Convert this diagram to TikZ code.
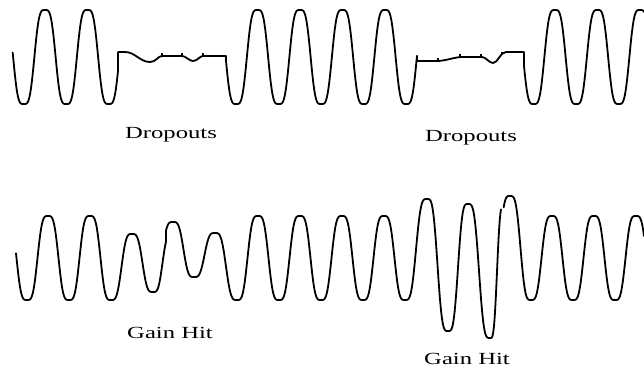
\documentclass[tikz,border=0pt]{standalone}
\usepackage{fontspec}
\setmainfont{Liberation Serif}
\usepackage{graphicx}
\tikzset{
  declare function={sq(\a)=(9*cos(\a)-cos(3*\a))/8;},
  wave/.style={line width=1.8pt, line cap=round, line join=round, black},
  ticky/.style={line width=1.5pt, black},
  lbl/.style={anchor=base, inner sep=0pt, font=\fontsize{17}{19}\selectfont},
}
\newcommand\wseg[6]{\draw[wave] plot[domain=#5:#6,samples=30,variable=\t] ({#1+(#3-#1)*\t},{#2+(#4-#2)*(1-sq(180*\t))/2});}
\begin{document}
\begin{tikzpicture}[x=1pt,y=-1pt]
\fill[white] (0,0) rectangle (644,368);
\useasboundingbox (0,0) rectangle (644,368);
% ---------- top wave with dropouts ----------
\draw[wave] plot[domain=12.7:118,samples=150] (\x,{57-47*sq((\x-45)*8.470588)})
  -- (118,52) -- (125,52)
  .. controls (135,52) and (140,62) .. (150,62)
  .. controls (156,62) and (158,56) .. (162,56) -- (182,56)
  .. controls (186,56) and (189,61) .. (193,61)
  .. controls (197,61) and (200,56) .. (203,56) -- (226,56)
  -- plot[domain=226:417,samples=280] (\x,{57-47*sq((\x-45)*8.470588)})
  -- (417,61) -- (437,61)
  .. controls (445,61) and (455,57) .. (462,57) -- (482,57)
  .. controls (486,57) and (489,63) .. (493,63)
  .. controls (498,63) and (500,52) .. (506,52) -- (524,52)
  -- plot[domain=524:644,samples=170] (\x,{57-47*sq((\x-45)*8.470588)});
\foreach \tx/\ty in {162/56,182/56,203/56,438/61,460/57,481/57,502/55}
  \draw[ticky] (\tx,\ty) -- (\tx,\ty-3.5);
% ---------- bottom wave with gain hits ----------
\draw[wave] plot[domain=16:111,samples=140] (\x,{258-42*sq((\x-48)*8.571429)});
\wseg{111}{300}{132}{234}{0}{1}
\wseg{132}{234}{153}{292}{0}{1}
\wseg{153}{292}{172}{234}{0}{0.684}
\draw[wave] (166,241.6) -- (166,230.6);
\wseg{152}{277}{173}{222}{0.667}{1}
\wseg{173}{222}{194}{277}{0}{1}
\wseg{194}{277}{215}{233}{0}{1}
\wseg{215}{233}{237}{300}{0}{1}
\draw[wave] plot[domain=237:405,samples=240] (\x,{258-42*sq((\x-48)*8.571429)});
\wseg{405}{300}{427}{199}{0}{1}
\wseg{427}{199}{448}{331}{0}{1}
\wseg{448}{331}{468}{204}{0}{1}
\wseg{468}{204}{490}{338}{0}{1}
\wseg{490}{338}{504}{205}{0}{0.786}
\wseg{489}{299}{510}{196}{0.7}{1}
\wseg{510}{196}{531}{300}{0}{1}
\draw[wave] plot[domain=531:644,samples=160] (\x,{258-42*sq((\x-48)*8.571429)});
% ---------- labels ----------
\node[lbl] (d1) at (171,138) {\scalebox{1.45}[1]{Dropouts}};
\node[lbl] (d2) at (471,141) {\scalebox{1.45}[1]{Dropouts}};
\node[lbl] (g1) at (170,338) {\scalebox{1.45}[1]{Gain Hit}};
\node[lbl] (g2) at (467,364) {\scalebox{1.45}[1]{Gain Hit}};
\end{tikzpicture}
\end{document}
